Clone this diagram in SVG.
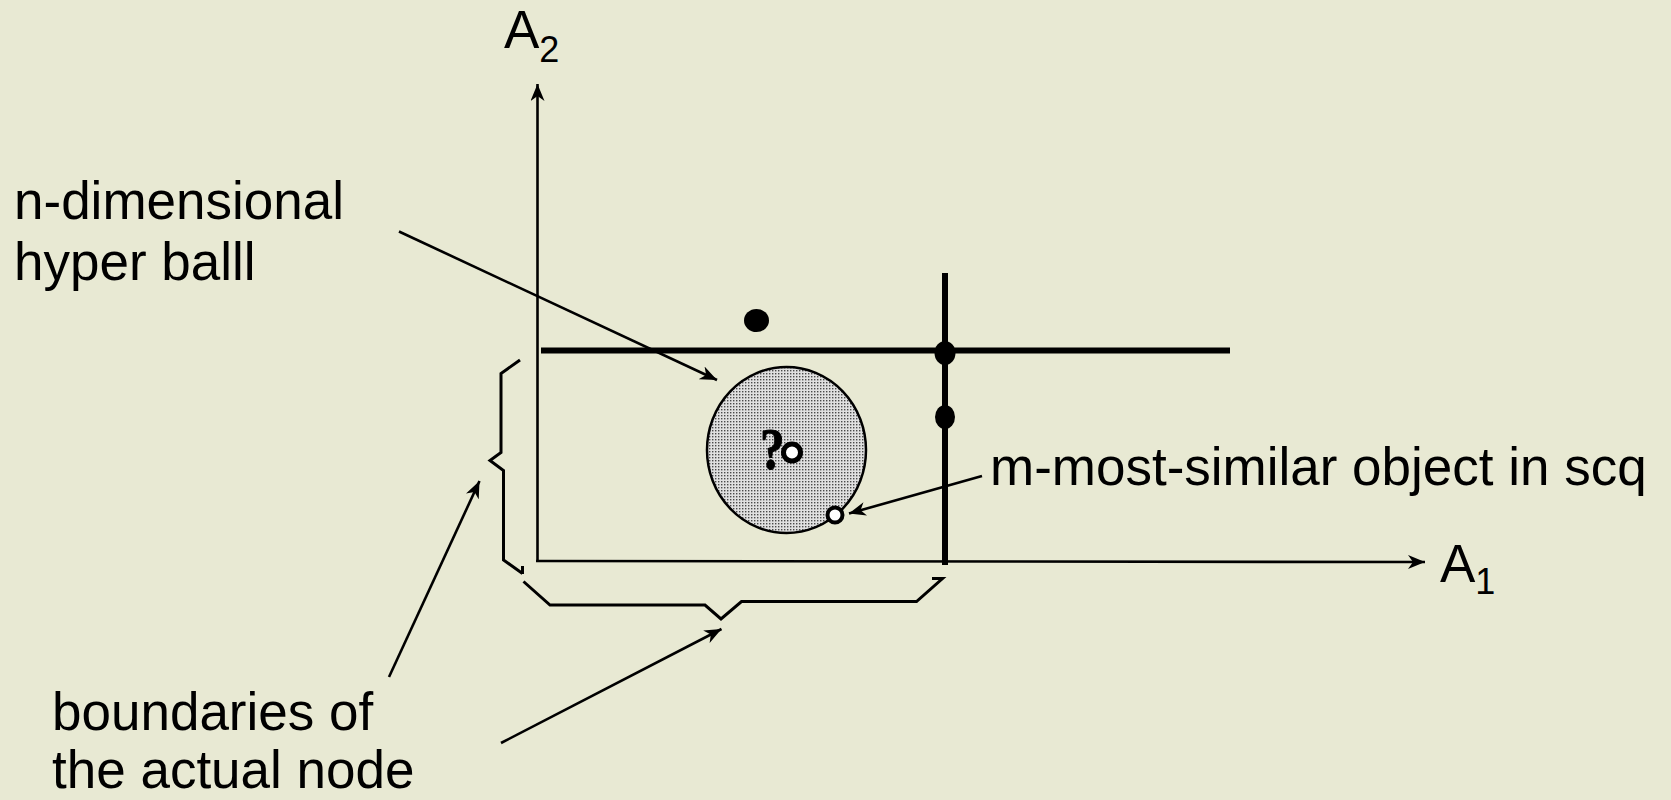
<svg xmlns="http://www.w3.org/2000/svg" width="1671" height="800" viewBox="0 0 1671 800">
<defs>
<style>
.lbl{font-family:"Liberation Sans",Arial,sans-serif;font-size:53px;fill:#000}
.thin{stroke:#000;stroke-width:2.6;fill:none}
.thick{stroke:#000;stroke-width:6;fill:none}
.brace{stroke:#000;stroke-width:3;fill:none;stroke-linejoin:miter}
</style>
<marker id="ah" markerUnits="userSpaceOnUse" markerWidth="18" markerHeight="14" refX="17" refY="7" orient="auto">
<path d="M0,0 L17,7 L0,14 L5,7 z" fill="#000"/>
</marker>
<pattern id="dots" width="3" height="3" patternUnits="userSpaceOnUse">
<rect width="3" height="3" fill="#e0e0e0"/>
<rect x="1" y="1" width="1.4" height="1.4" fill="#4a4a4a"/>
</pattern>
</defs>
<rect width="1671" height="800" fill="#e8e9d3"/>

<g id="axes">
<line class="thin" x1="537.5" y1="561" x2="537.5" y2="84" marker-end="url(#ah)"/>
<line class="thin" x1="536" y1="561" x2="1425" y2="562" marker-end="url(#ah)"/>
<text class="lbl" x="504" y="48">A<tspan font-size="36" dy="14">2</tspan></text>
<text class="lbl" x="1440" y="582">A<tspan font-size="36" dy="12">1</tspan></text>
</g>

<g id="partition">
<line class="thick" x1="541" y1="350.5" x2="1230" y2="350.5"/>
<line class="thick" x1="945" y1="273" x2="945" y2="565"/>
<ellipse cx="945" cy="353" rx="10.5" ry="12" fill="#000"/>
<ellipse cx="945" cy="417" rx="10" ry="12" fill="#000"/>
<ellipse cx="756.5" cy="320.5" rx="12.5" ry="11.5" fill="#000"/>
</g>

<g id="hyperball">
<ellipse cx="786.5" cy="450" rx="79.5" ry="83" fill="url(#dots)" stroke="#000" stroke-width="2.5"/>
<text transform="translate(760,469) scale(0.82,1)" font-family="'Liberation Serif','Times New Roman',serif" font-weight="bold" font-size="60" fill="#000" stroke="#000" stroke-width="1">?</text>
<circle cx="792" cy="452.5" r="8.5" fill="#fff" stroke="#000" stroke-width="5"/>
<circle cx="835" cy="515" r="7.5" fill="#fff" stroke="#000" stroke-width="4"/>
</g>

<g id="braces">
<path class="brace" d="M520,360 L501,373.5 L501,452.5 L490,460.5 L503.5,470.5 L503.5,560 L522.5,573.5 M522.5,566 L522.5,574"/>
<path class="brace" d="M523.5,581.5 L550,605 L705,605 L721,619 L741.5,601.5 L916.5,601.5 L942.5,578.5 L932,578.5"/>
</g>

<g id="label-ball">
<text class="lbl" x="14" y="219">n-dimensional</text>
<text class="lbl" x="14" y="280">hyper balll</text>
</g>
<g id="label-msim">
<text class="lbl" x="990" y="485">m-most-similar object in scq</text>
</g>
<g id="label-bounds">
<text class="lbl" x="52" y="730">boundaries of</text>
<text class="lbl" x="52" y="788">the actual node</text>
</g>

<g id="connectors">
<line class="thin" x1="399" y1="231.5" x2="717" y2="380" marker-end="url(#ah)"/>
<line class="thin" x1="982" y1="476" x2="849" y2="513.5" marker-end="url(#ah)"/>
<line class="thin" x1="389" y1="677" x2="479.5" y2="481" marker-end="url(#ah)"/>
<line class="thin" x1="501" y1="743" x2="721.5" y2="629" marker-end="url(#ah)"/>
</g>
</svg>
